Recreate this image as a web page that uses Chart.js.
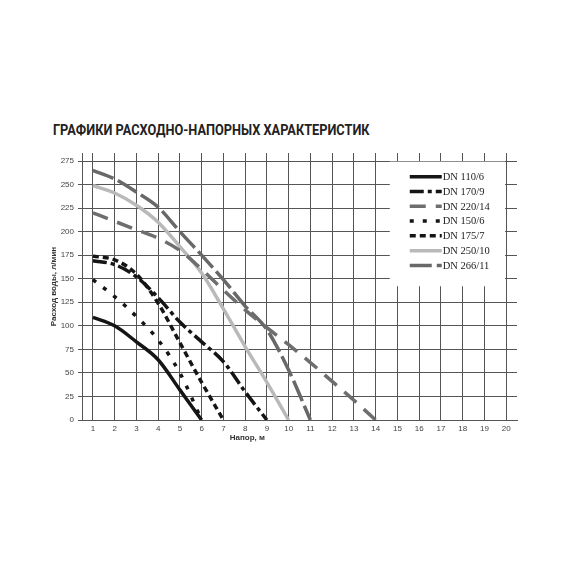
<!DOCTYPE html>
<html>
<head>
<meta charset="utf-8">
<script src="https://cdn.jsdelivr.net/npm/chart.js@4.4.1/dist/chart.umd.min.js"></script>
<style>
  body { margin: 0; background: #fff; }
  #wrap { position: relative; width: 570px; height: 570px; }
  #titre {
    position: absolute; left: 53px; top: 121px;
    font: 700 15px Roboto, sans-serif; color: #222; white-space: nowrap;
    transform: scaleX(0.85); transform-origin: left top;
  }
  canvas { position: absolute; left: 0; top: 0; }
</style>
</head>
<body>
<div id="wrap">
  <div id="titre">ГРАФИКИ РАСХОДНО-НАПОРНЫХ ХАРАКТЕРИСТИК</div>
  <canvas id="myChart" width="570" height="570"></canvas>
</div>
<script>
// valeurs (x = напор 1, 2, 3 ...)
const xTicks = [1, 2, 3, 4, 5, 6, 7, 8, 9, 10, 11, 12, 13, 14, 15, 16, 17, 18, 19, 20];
const yTicks = [0, 25, 50, 75, 100, 125, 150, 175, 200, 225, 250, 275];
const noms = ["DN 110/6", "DN 170/9", "DN 220/14", "DN 150/6", "DN 175/7", "DN 250/10", "DN 266/11"];

const dn110_6 = [109, 100, 83, 64, 32, 0];
const dn170_9 = [169, 165, 152, 130, 104, 83, 62, 30, 0];
const dn220_14 = [220, 211, 202, 193, 180, 160, 138, 117, 98, 80, 61, 41, 21, 0];
const dn150_6 = [149, 131, 110, 85, 50, 0];
const dn175_7 = [174, 170, 155, 124, 82, 40, 0];
const dn250_10 = [249, 241, 228, 210, 184, 156, 118, 78, 40, 0];
const dn266_11 = [265, 256, 242, 226, 200, 175, 149, 121, 96, 53, 0];

const series = [dn110_6, dn170_9, dn220_14, dn150_6, dn175_7, dn250_10, dn266_11];
const couleurs = ["#151515", "#151515", "#6e6e6e", "#151515", "#151515", "#b9b9b9", "#686868"];
const tirets = [[], [14, 4, 4, 4], [16, 10], [4, 9], [6, 4], [], [22, 5]];

const datasets = series.map((vals, i) => ({
  label: noms[i],
  data: vals.map((v, k) => ({ x: k + 1, y: v })),
  borderColor: couleurs[i],
  borderDash: tirets[i],
  borderWidth: 3.5,
  pointRadius: 0,
  fill: false,
  cubicInterpolationMode: 'monotone'
}));

// legende dans un cadre blanc a l'interieur de la grille
const legendeInterne = {
  id: 'legendeInterne',
  afterDatasetsDraw(chart) {
    const { ctx, scales } = chart;
    const x0 = scales.x.getPixelForValue(14.65);
    const x1 = scales.x.getPixelForValue(19.95);
    const y0 = scales.y.getPixelForValue(274.3);
    const y1 = scales.y.getPixelForValue(142);
    ctx.save();
    ctx.fillStyle = '#fff';
    ctx.fillRect(x0, y0, x1 - x0, y1 - y0);
    chart.data.datasets.forEach((ds, i) => {
      const y = y0 + 15 + i * 14.8;
      ctx.beginPath();
      ctx.strokeStyle = ds.borderColor;
      ctx.lineWidth = 3.5;
      ctx.setLineDash(ds.borderDash);
      ctx.moveTo(x0 + 20, y);
      ctx.lineTo(x0 + 52, y);
      ctx.stroke();
      ctx.setLineDash([]);
      ctx.fillStyle = '#222';
      ctx.font = '10.5px "Liberation Serif", serif';
      ctx.textBaseline = 'middle';
      ctx.fillText(ds.label, x0 + 53, y + 0.5);
    });
    // titre de l'axe x (decale a gauche comme sur l'original)
    ctx.fillStyle = '#333';
    ctx.font = 'bold 8px "Liberation Sans", Arial, sans-serif';
    ctx.textAlign = 'center';
    ctx.textBaseline = 'middle';
    ctx.fillText('Напор, м', scales.x.getPixelForValue(8.1), 438);
    ctx.restore();
  }
};

const grille = '#555';

new Chart(document.getElementById('myChart'), {
  type: 'line',
  data: { datasets: datasets },
  options: {
    responsive: false,
    animation: false,
    layout: { padding: { left: 49, top: 153, right: 53, bottom: 120 } },
    plugins: { legend: { display: false }, tooltip: { enabled: false } },
    scales: {
      x: {
        type: 'linear',
        min: 0.5,
        max: 20.5,
        afterBuildTicks: s => { s.ticks = xTicks.map(v => ({ value: v })); },
        afterFit: s => { s.height = 30; },
        grid: { color: grille, lineWidth: 1, drawTicks: false },
        border: { color: grille, width: 1 },
        ticks: {
          padding: 4,
          color: '#444',
          font: { family: '"Liberation Sans", Arial, sans-serif', size: 8 },
          maxRotation: 0
        }
      },
      y: {
        min: 0,
        max: 283.5,
        afterBuildTicks: s => { s.ticks = yTicks.map(v => ({ value: v })); },
        afterFit: s => { s.width = 33; },
        grid: { color: grille, lineWidth: 1, tickLength: 4 },
        border: { color: grille, width: 1 },
        title: {
          display: true,
          text: 'Расход воды, л/мин',
          color: '#333',
          padding: 0,
          font: { family: '"Liberation Sans", Arial, sans-serif', size: 8, weight: 'bold' }
        },
        ticks: {
          padding: 4,
          color: '#444',
          font: { family: '"Liberation Sans", Arial, sans-serif', size: 8 }
        }
      }
    }
  },
  plugins: [legendeInterne]
});
</script>
</body>
</html>
